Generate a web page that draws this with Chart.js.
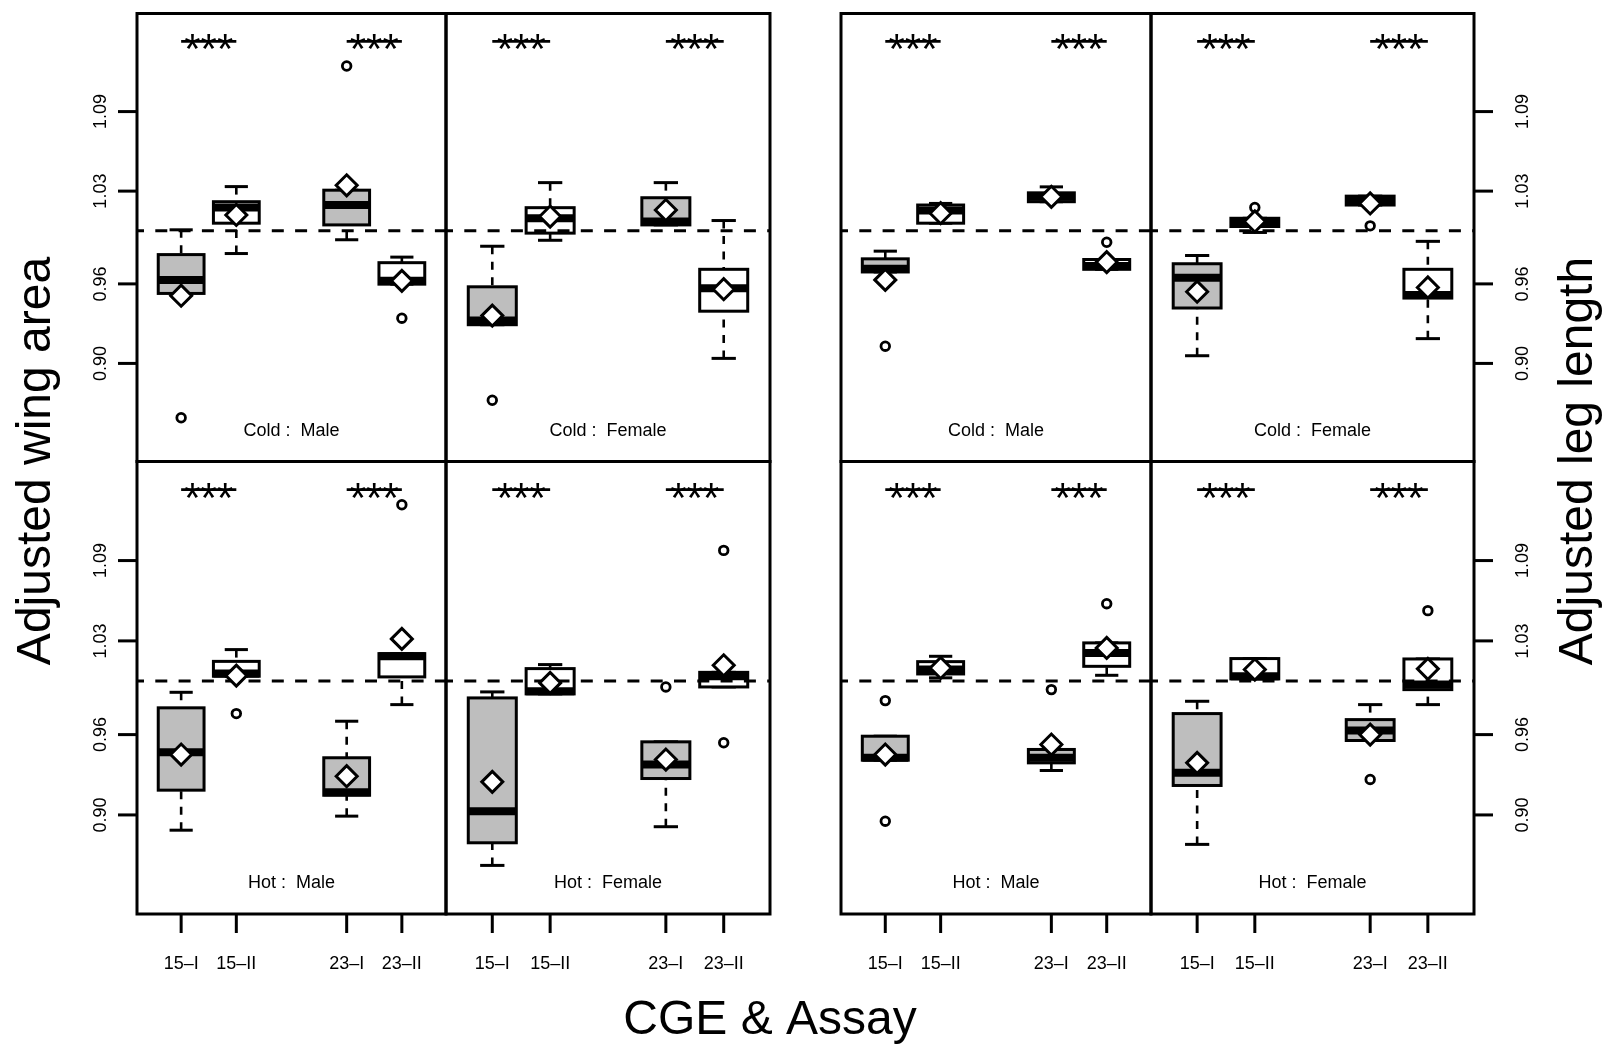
<!DOCTYPE html>
<html>
<head>
<meta charset="utf-8">
<script src="https://cdn.jsdelivr.net/npm/chart.js@4.4.1/dist/chart.umd.min.js"></script>
<style>
  body { margin: 0; background: #fff; width: 1610px; height: 1044px; position: relative; overflow: hidden; }
  canvas { position: absolute; left: 0; top: 0; }
</style>
</head>
<body>
<canvas id="p0" width="1610" height="1044"></canvas>
<canvas id="p1" width="1610" height="1044"></canvas>
<canvas id="p2" width="1610" height="1044"></canvas>
<canvas id="p3" width="1610" height="1044"></canvas>
<canvas id="p4" width="1610" height="1044"></canvas>
<canvas id="p5" width="1610" height="1044"></canvas>
<canvas id="p6" width="1610" height="1044"></canvas>
<canvas id="p7" width="1610" height="1044"></canvas>
<script>
// CGE & assay groups, drawn at x = 1, 2, 4, 5
const categories = ['15–I', '15–II', '23–I', '23–II'];
const positions = [1, 2, 4, 5];
const yTickValues = [0.90, 0.96, 1.03, 1.09];
const yTickLabels = ['0.90', '0.96', '1.03', '1.09'];
const referenceValue = 1.0;
const starLevel = 1.143;
const starText = '***';

// panels: wing cold M/F, leg cold M/F, wing hot M/F, leg hot M/F
const panelLabels = ['Cold :  Male', 'Cold :  Female', 'Cold :  Male', 'Cold :  Female',
                     'Hot :  Male', 'Hot :  Female', 'Hot :  Male', 'Hot :  Female'];

const lowerWhisker = [
  [0.9528, 0.9829, 0.9933, 0.9598],
  [0.9292, 0.9929, 1.0045, 0.9038],
  [0.9690, 1.0058, 1.0220, 0.9710],
  [0.9058, 0.9988, 1.0195, 0.9187],
  [0.8886, 1.0036, 0.8991, 0.9824],
  [0.8623, 0.9904, 0.8912, 0.9956],
  [0.9409, 1.0024, 0.9332, 1.0043],
  [0.8780, 1.0016, 0.9556, 0.9824]
];
const lowerQuartile = [
  [0.9528, 1.0058, 1.0045, 0.9598],
  [0.9292, 0.9983, 1.0045, 0.9394],
  [0.9690, 1.0058, 1.0220, 0.9710],
  [0.9418, 1.0033, 1.0195, 0.9493],
  [0.9185, 1.0036, 0.9147, 1.0031],
  [0.8792, 0.9904, 0.9272, 0.9956],
  [0.9409, 1.0053, 0.9389, 1.0110],
  [0.9220, 1.0016, 0.9556, 0.9936]
];
const medians = [
  [0.9630, 1.0177, 1.0195, 0.9623],
  [0.9324, 1.0095, 1.0070, 0.9568],
  [0.9715, 1.0153, 1.0257, 0.9735],
  [0.9647, 1.0065, 1.0232, 0.9516],
  [0.9468, 1.0056, 0.9170, 1.0185],
  [0.9028, 0.9924, 0.9377, 1.0036],
  [0.9427, 1.0086, 0.9427, 1.0210],
  [0.9315, 1.0036, 0.9630, 0.9974]
];
const upperQuartile = [
  [0.9821, 1.0220, 1.0307, 0.9760],
  [0.9578, 1.0175, 1.0250, 0.9710],
  [0.9789, 1.0195, 1.0287, 0.9784],
  [0.9752, 1.0095, 1.0262, 0.9710],
  [0.9800, 1.0147, 0.9427, 1.0205],
  [0.9874, 1.0093, 0.9546, 1.0065],
  [0.9588, 1.0145, 0.9489, 1.0285],
  [0.9757, 1.0168, 0.9712, 1.0165]
];
const upperWhisker = [
  [1.0008, 1.0334, 1.0307, 0.9802],
  [0.9884, 1.0364, 1.0364, 1.0078],
  [0.9847, 1.0207, 1.0332, 0.9784],
  [0.9814, 1.0095, 1.0262, 0.9921],
  [0.9916, 1.0235, 0.9700, 1.0205],
  [0.9919, 1.0123, 0.9546, 1.0065],
  [0.9588, 1.0185, 0.9489, 1.0285],
  [0.9849, 1.0168, 0.9824, 1.0165]
];
const means = [
  [0.9511, 1.0120, 1.0344, 0.9623],
  [0.9361, 1.0108, 1.0157, 0.9560],
  [0.9630, 1.0133, 1.0257, 0.9764],
  [0.9541, 1.0071, 1.0207, 0.9573],
  [0.9451, 1.0041, 0.9289, 1.0315],
  [0.9247, 0.9986, 0.9414, 1.0118],
  [0.9451, 1.0098, 0.9526, 1.0247],
  [0.9389, 1.0086, 0.9600, 1.0091]
];
const outliers = [
  [[0.859], [], [1.1244], [0.9341]],
  [[0.8722], [], [], []],
  [[0.913], [], [], [0.9914]],
  [[], [1.0177], [1.0038], []],
  [[], [0.9757], [], [1.1317]],
  [[], [], [0.9956], [1.0976, 0.9539]],
  [[0.9854, 0.8953], [], [0.9936], [1.0578]],
  [[], [], [0.9265], [1.0526]]
];

// layout (page pixels)
const FONT = "'Liberation Sans', Arial, Helvetica, sans-serif";
const boxFills = ['#bebebe', '#ffffff', '#bebebe', '#ffffff'];
const colEdges = [[137, 446], [446, 770], [841, 1151], [1151, 1474]];
const rowEdges = [[8, 461.5], [461.5, 914]];

function line(ctx, x0, y0, x1, y1) {
  ctx.beginPath();
  ctx.moveTo(x0, y0);
  ctx.lineTo(x1, y1);
  ctx.stroke();
}

const boxplotPlugin = {
  id: 'boxplot',
  beforeDatasetsDraw(chart, args, opts) {
    const p = opts.panel;
    const { ctx, chartArea: a, scales: { x, y } } = chart;
    ctx.save();
    ctx.strokeStyle = '#000';
    positions.forEach((pos, i) => {
      const cx = x.getPixelForValue(pos);
      const bl = x.getPixelForValue(pos - 0.415), br = x.getPixelForValue(pos + 0.415);
      const sl = x.getPixelForValue(pos - 0.21), sr = x.getPixelForValue(pos + 0.21);
      const yLo = y.getPixelForValue(lowerWhisker[p][i]);
      const yQ1 = y.getPixelForValue(lowerQuartile[p][i]);
      const yMed = y.getPixelForValue(medians[p][i]);
      const yQ3 = y.getPixelForValue(upperQuartile[p][i]);
      const yHi = y.getPixelForValue(upperWhisker[p][i]);
      // whiskers, dashed from the staple towards the box
      ctx.lineWidth = 2.6;
      ctx.setLineDash([8, 7.5]);
      if (yLo - yQ1 > 1) line(ctx, cx, yLo, cx, yQ1);
      if (yQ3 - yHi > 1) line(ctx, cx, yHi, cx, yQ3);
      ctx.setLineDash([]);
      ctx.lineWidth = 3;
      line(ctx, sl, yLo, sr, yLo);
      line(ctx, sl, yHi, sr, yHi);
      // box
      ctx.fillStyle = boxFills[i];
      ctx.fillRect(bl, yQ3, br - bl, yQ1 - yQ3);
      ctx.strokeRect(bl, yQ3, br - bl, yQ1 - yQ3);
      // median
      ctx.lineWidth = 8;
      line(ctx, bl, yMed, br, yMed);
    });
    // reference line at 1
    const yRef = y.getPixelForValue(referenceValue);
    ctx.lineWidth = 3;
    ctx.setLineDash([12, 11.3]);
    ctx.lineDashOffset = 5;
    line(ctx, a.left, yRef, a.right, yRef);
    ctx.restore();
  },
  afterDatasetsDraw(chart, args, opts) {
    const p = opts.panel;
    const { ctx, chartArea: a, scales: { x, y } } = chart;
    ctx.save();
    ctx.strokeStyle = '#000';
    ctx.fillStyle = '#000';
    ctx.lineWidth = 3;
    ctx.strokeRect(a.left, a.top, a.right - a.left, a.bottom - a.top);

    // significance bars
    const ys = y.getPixelForValue(starLevel);
    ctx.lineWidth = 2.8;
    [[0, 1], [2, 3]].forEach(([i, j]) => {
      const x0 = x.getPixelForValue(positions[i]), x1 = x.getPixelForValue(positions[j]);
      line(ctx, x0, ys, x1, ys);
      ctx.font = '42px ' + FONT;
      ctx.textAlign = 'center';
      ctx.textBaseline = 'alphabetic';
      ctx.fillText(starText, (x0 + x1) / 2, ys + 22);
    });

    // panel label
    ctx.font = '18px ' + FONT;
    ctx.textAlign = 'center';
    ctx.textBaseline = 'alphabetic';
    ctx.fillText(panelLabels[p], x.getPixelForValue(3), y.getPixelForValue(0.8453));

    ctx.lineWidth = 3;
    ctx.font = '18px ' + FONT;
    if (opts.left || opts.right) {
      yTickValues.forEach((v, k) => {
        const yy = y.getPixelForValue(v);
        const edge = opts.left ? a.left : a.right;
        const dir = opts.left ? -1 : 1;
        line(ctx, edge, yy, edge + dir * 19, yy);
        ctx.save();
        ctx.translate(opts.left ? edge - 31 : edge + 53.5, yy);
        ctx.rotate(-Math.PI / 2);
        ctx.textAlign = 'center';
        ctx.fillText(yTickLabels[k], 0, 0);
        ctx.restore();
      });
    }
    if (opts.bottom) {
      positions.forEach((pos, k) => {
        const xx = x.getPixelForValue(pos);
        line(ctx, xx, a.bottom, xx, a.bottom + 19);
        ctx.textAlign = 'center';
        ctx.fillText(categories[k], xx, a.bottom + 54.5);
      });
    }

    if (opts.title) {
      const t = opts.title;
      ctx.font = '48px ' + FONT;
      ctx.textAlign = 'center';
      ctx.textBaseline = 'alphabetic';
      ctx.save();
      ctx.translate(t.x, t.y);
      ctx.rotate(t.rot);
      ctx.fillText(t.text, 0, 0);
      ctx.restore();
    }
    ctx.restore();
  }
};

const titles = {
  0: { text: 'Adjusted wing area', x: 50, y: 461, rot: -Math.PI / 2 },
  3: { text: 'Adjusted leg length', x: 1592, y: 461, rot: -Math.PI / 2 },
  4: { text: 'CGE & Assay', x: 770, y: 1033.5, rot: 0 }
};

for (let p = 0; p < 8; p++) {
  const col = colEdges[p % 4], row = rowEdges[Math.floor(p / 4)];
  const meanPoints = means[p].map((m, i) => ({ x: positions[i], y: m }));
  const outPoints = [];
  outliers[p].forEach((vals, i) => vals.forEach(v => outPoints.push({ x: positions[i], y: v })));

  new Chart(document.getElementById('p' + p), {
    type: 'scatter',
    data: {
      datasets: [
        {
          label: 'Mean',
          data: meanPoints,
          pointStyle: 'rectRot',
          pointRadius: 10.5,
          pointBorderWidth: 3,
          pointBackgroundColor: '#ffffff',
          pointBorderColor: '#000000'
        },
        {
          label: 'Outliers',
          data: outPoints,
          pointStyle: 'circle',
          pointRadius: 4.3,
          pointBorderWidth: 2.8,
          pointBackgroundColor: 'rgba(0,0,0,0)',
          pointBorderColor: '#000000'
        }
      ]
    },
    options: {
      responsive: false,
      animation: false,
      events: [],
      layout: { padding: { left: col[0], right: 1610 - col[1], top: row[0], bottom: 1044 - row[1] } },
      scales: {
        x: { type: 'linear', min: 0.2, max: 5.8, display: false },
        y: { type: 'linear', min: 0.826, max: 1.164, display: false }
      },
      plugins: {
        legend: { display: false },
        tooltip: { enabled: false },
        boxplot: {
          panel: p,
          left: p % 4 === 0,
          right: p % 4 === 3,
          bottom: p >= 4,
          title: titles[p] || null
        }
      }
    },
    plugins: [boxplotPlugin]
  });
}
</script>
</body>
</html>
